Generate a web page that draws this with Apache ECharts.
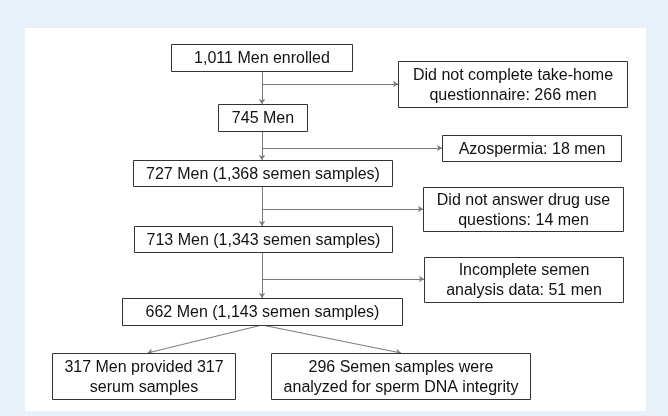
<!DOCTYPE html>
<html>
<head>
<meta charset="utf-8">
<script src="https://cdn.jsdelivr.net/npm/echarts@6/dist/echarts.min.js"></script>
<style>
  html, body { margin: 0; padding: 0; background: #e8f0f9; }
  #main { width: 668px; height: 416px; }
</style>
</head>
<body>
<div id="main"></div>
<script>
// flow numbers
var menCounts = [1011, 745, 727, 713, 662];
var sampleCounts = [null, null, 1368, 1343, 1143];
var excludedLabels = ['Did not complete take-home\nquestionnaire', 'Azospermia', 'Did not answer drug use\nquestions', 'Incomplete semen\nanalysis data'];
var excludedMen = [266, 18, 14, 51];
var outcomeLabels = ['317 Men provided 317\nserum samples', '296 Semen samples were\nanalyzed for sperm DNA integrity'];

// layout of the boxes [x0, y0, x1, y1] in page pixels
var mainBoxes = [[171, 44, 352, 71], [218, 104, 307, 131], [133, 160, 392, 186], [134, 226, 392, 252], [122, 298, 402, 325]];
var sideBoxes = [[398, 61, 627, 107], [442, 135, 621, 161], [423, 187, 623, 231], [424, 257, 623, 302]];
var bottomBoxes = [[52, 353, 235, 399], [271, 353, 530, 399]];
var trunkX = 262;
var branchY = [84, 148, 209, 279];

function fmt(n) {
  return n.toLocaleString('en-US');
}

var boxes = [];
for (var i = 0; i < menCounts.length; i++) {
  var t = (i == 0) ? fmt(menCounts[i]) + ' Men enrolled' : fmt(menCounts[i]) + ' Men';
  if (sampleCounts[i]) t += ' (' + fmt(sampleCounts[i]) + ' semen samples)';
  boxes.push({ value: mainBoxes[i], label: t });
}
for (var i = 0; i < excludedLabels.length; i++) {
  boxes.push({ value: sideBoxes[i], label: excludedLabels[i] + ': ' + excludedMen[i] + ' men' });
}
for (var i = 0; i < outcomeLabels.length; i++) {
  boxes.push({ value: bottomBoxes[i], label: outcomeLabels[i] });
}

var arrows = [];
for (var i = 0; i < mainBoxes.length - 1; i++) {
  arrows.push({ coords: [[trunkX, mainBoxes[i][3]], [trunkX, mainBoxes[i + 1][1]]] });
  arrows.push({ coords: [[trunkX, branchY[i]], [sideBoxes[i][0], branchY[i]]] });
}
var last = mainBoxes[mainBoxes.length - 1];
arrows.push({ coords: [[trunkX, last[3]], [(bottomBoxes[0][0] + bottomBoxes[0][2]) / 2 + 4, bottomBoxes[0][1]]] });
arrows.push({ coords: [[trunkX, last[3]], [401, bottomBoxes[1][1]]] });

var chart = echarts.init(document.getElementById('main'));
var option = {
  backgroundColor: '#e8f0f9',
  animation: false,
  grid: { left: 25, right: 22, top: 28, bottom: 5, show: true, backgroundColor: '#ffffff', borderWidth: 0 },
  xAxis: { type: 'value', min: 25, max: 646, show: false },
  yAxis: { type: 'value', min: 28, max: 411, inverse: true, show: false },
  series: [
    {
      type: 'lines',
      coordinateSystem: 'cartesian2d',
      symbol: ['none', 'arrow'],
      symbolSize: 5,
      lineStyle: { color: '#7a7a7a', width: 1, opacity: 1 },
      data: arrows,
      z: 2
    },
    {
      type: 'custom',
      coordinateSystem: 'cartesian2d',
      data: boxes.map(function (b) { return b.value; }),
      renderItem: function (params, api) {
        var p0 = api.coord([api.value(0), api.value(1)]);
        var p1 = api.coord([api.value(2), api.value(3)]);
        var x = Math.round(p0[0]) + 0.5, y = Math.round(p0[1]) + 0.5;
        var w = Math.round(p1[0] - p0[0]), h = Math.round(p1[1] - p0[1]);
        return {
          type: 'group',
          children: [
            {
              type: 'rect',
              shape: { x: x, y: y, width: w, height: h },
              style: { fill: '#ffffff', stroke: '#333333', lineWidth: 1 }
            },
            {
              type: 'text',
              style: {
                x: x + w / 2,
                y: y + h / 2 + 1,
                text: boxes[params.dataIndex].label,
                align: 'center',
                verticalAlign: 'middle',
                fontFamily: 'Liberation Sans, Arial, sans-serif',
                fontSize: 16,
                lineHeight: 20,
                fill: '#111111'
              }
            }
          ]
        };
      },
      z: 3
    }
  ]
};
chart.setOption(option);
</script>
</body>
</html>
